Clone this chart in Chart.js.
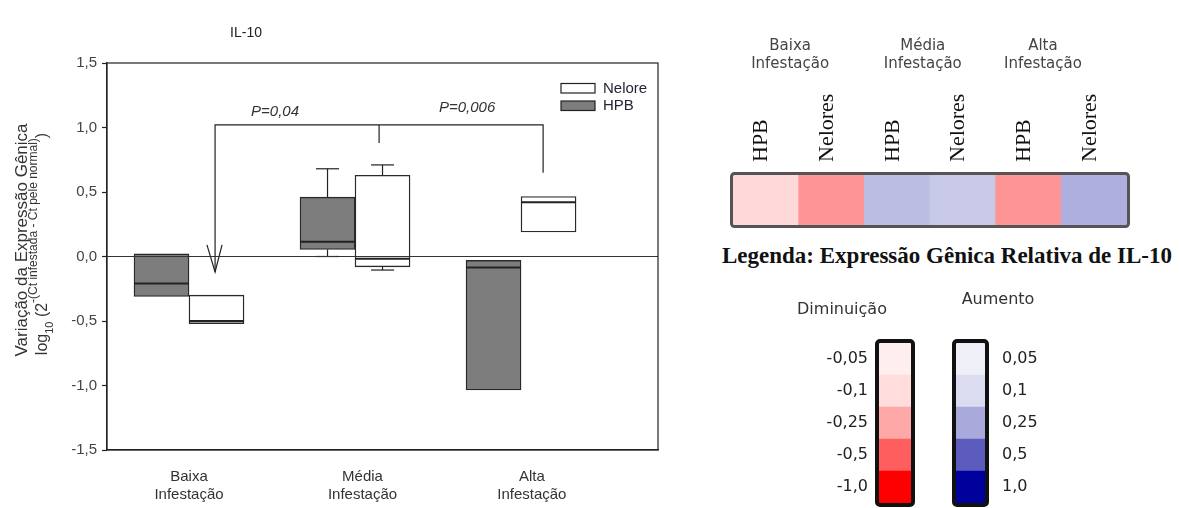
<!DOCTYPE html>
<html>
<head>
<meta charset="utf-8">
<script src="https://cdn.jsdelivr.net/npm/chart.js@4.4.1/dist/chart.umd.min.js"></script>
<style>
  html, body { margin: 0; padding: 0; background: #fff; }
  #wrap { position: relative; width: 1180px; height: 508px; overflow: hidden; }
  canvas { position: absolute; }
  #box { left: 0; top: 0; }
  #heat { left: 680px; top: 0; }
  #red { left: 773px; top: 280px; }
  #blue { left: 940px; top: 280px; }
  #legTitle { position: absolute; left: 700px; width: 494px; top: 243px; line-height: 28px;
    text-align: center; font: bold 23px 'Liberation Serif', serif; color: #111; }
</style>
</head>
<body>
<div id="wrap">
  <canvas id="box" width="680" height="508"></canvas>
  <canvas id="heat" width="500" height="240"></canvas>
  <div id="legTitle">Legenda: Expressão Gênica Relativa de IL-10</div>
  <canvas id="red" width="147" height="228"></canvas>
  <canvas id="blue" width="100" height="228"></canvas>
</div>
<script>
// ---- box plot data ----
var categories = [['Baixa', 'Infestação'], ['Média', 'Infestação'], ['Alta', 'Infestação']];
var hpbQ1 = [-0.31, 0.054, -1.035];
var hpbQ3 = [0.02, 0.46, -0.03];
var hpbMedian = [-0.21, 0.114, -0.085];
var hpbWhiskLow = [null, 0.0, null];
var hpbWhiskHigh = [null, 0.68, null];
var neloreQ1 = [-0.52, -0.08, 0.19];
var neloreQ3 = [-0.30, 0.63, 0.465];
var neloreMedian = [-0.50, -0.018, 0.42];
var neloreWhiskLow = [null, -0.105, null];
var neloreWhiskHigh = [null, 0.71, null];

// significance bracket (data units)
var bracketLine = [{x: 1.157, y: -0.12}, {x: 1.157, y: 1.02}, {x: 3.133, y: 1.02}, {x: 3.133, y: 0.65}];
var bracketMid = [{x: 2.145, y: 1.02}, {x: 2.145, y: 0.88}];
var arrowHead = [{x: 1.108, y: 0.09}, {x: 1.157, y: -0.12}, {x: 1.199, y: 0.09}];
var pValues = ['P=0,04', 'P=0,006'];
var pValueAt = [{x: 1.518, y: 1.124}, {x: 2.675, y: 1.155}];

// ---- heatmap data ----
var heatLabels = ['HPB', 'Nelores', 'HPB', 'Nelores', 'HPB', 'Nelores'];
var heatGroups = [['Baixa', 'Infestação'], ['Média', 'Infestação'], ['Alta', 'Infestação']];
var heatColors = ['#ffd9d9', '#ff9494', '#bcbde3', '#c8c9e8', '#ff9494', '#aeafdf'];

// ---- colour key ----
var redLabels = ['-0,05', '-0,1', '-0,25', '-0,5', '-1,0'];
var redColors = ['#ffeeee', '#ffdddd', '#ffa8a8', '#ff5e5e', '#ff0000'];
var blueLabels = ['0,05', '0,1', '0,25', '0,5', '1,0'];
var blueColors = ['#efeff8', '#dcdcf0', '#a9a9dc', '#5c5cbf', '#00009c'];

var SANS = "'Liberation Sans', Arial, sans-serif";
var DJV = "'DejaVu Sans', Verdana, sans-serif";

function hline(ctx, x1, y1, x2, y2) {
  ctx.beginPath();
  ctx.moveTo(x1, y1);
  ctx.lineTo(x2, y2);
  ctx.stroke();
}

var boxExtras = {
  id: 'boxExtras',
  afterDatasetsDraw: function (chart) {
    var ctx = chart.ctx, ys = chart.scales.y, xs = chart.scales.x, ca = chart.chartArea;
    ctx.save();
    ctx.strokeStyle = '#222';
    // medians + whiskers
    chart.data.datasets.forEach(function (ds, di) {
      if (!ds.stats) return;
      chart.getDatasetMeta(di).data.forEach(function (bar, i) {
        var p = bar.getProps(['x', 'width'], true);
        var half = p.width / 2;
        ctx.lineWidth = 2;
        var my = ys.getPixelForValue(ds.stats.median[i]);
        hline(ctx, p.x - half, my, p.x + half, my);
        ctx.lineWidth = 1.2;
        [[ds.stats.low[i], ds.y1[i]], [ds.stats.high[i], ds.y2[i]]].forEach(function (w) {
          if (w[0] === null) return;
          var wy = ys.getPixelForValue(w[0]), by = ys.getPixelForValue(w[1]);
          hline(ctx, p.x, by, p.x, wy);
          hline(ctx, p.x - half * 0.42, wy, p.x + half * 0.42, wy);
        });
      });
    });
    // zero reference line
    ctx.lineWidth = 1.2;
    ctx.strokeStyle = '#333';
    var zy = ys.getPixelForValue(0);
    hline(ctx, ca.left, zy, ca.right, zy);
    // frame
    ctx.strokeStyle = '#222';
    ctx.strokeRect(ca.left, ca.top, ca.right - ca.left, ca.bottom - ca.top);
    // p values
    ctx.fillStyle = '#333';
    ctx.font = 'italic 15px ' + SANS;
    ctx.textAlign = 'center';
    ctx.textBaseline = 'middle';
    pValues.forEach(function (t, i) {
      ctx.fillText(t, xs.getPixelForValue(pValueAt[i].x), ys.getPixelForValue(pValueAt[i].y));
    });
    // legend (Nelore first)
    ctx.font = '15px ' + SANS;
    ctx.textAlign = 'left';
    [chart.data.datasets[1], chart.data.datasets[0]].forEach(function (ds, k) {
      var y = 83.5 + k * 17.5;
      ctx.fillStyle = ds.backgroundColor;
      ctx.fillRect(561, y, 34, 9.5);
      ctx.lineWidth = 1.2;
      ctx.strokeStyle = '#222';
      ctx.strokeRect(561, y, 34, 9.5);
      ctx.fillStyle = '#2a2233';
      ctx.fillText(ds.label, 603, y + 5);
    });
    // title
    ctx.fillStyle = '#222';
    ctx.font = '14px ' + SANS;
    ctx.textAlign = 'center';
    ctx.fillText('IL-10', 246, 33);
    // y axis title
    ctx.save();
    ctx.translate(27, 240);
    ctx.rotate(-Math.PI / 2);
    ctx.font = '17px ' + SANS;
    ctx.fillStyle = '#333';
    ctx.textBaseline = 'alphabetic';
    ctx.fillText('Variação da Expressão Gênica', 0, 0);
    ctx.restore();
    var parts = [
      {t: 'log', s: 16, dy: 0},
      {t: '10', s: 11, dy: 6},
      {t: ' (2', s: 16, dy: 0},
      {t: '-(Ct infestada - Ct pele normal)', s: 12, dy: -10},
      {t: ')', s: 16, dy: 0}
    ];
    ctx.save();
    ctx.translate(47, 244);
    ctx.rotate(-Math.PI / 2);
    ctx.fillStyle = '#333';
    ctx.textAlign = 'left';
    ctx.textBaseline = 'alphabetic';
    var total = 0;
    parts.forEach(function (p) { ctx.font = p.s + 'px ' + SANS; p.w = ctx.measureText(p.t).width; total += p.w; });
    var x = -total / 2;
    parts.forEach(function (p) { ctx.font = p.s + 'px ' + SANS; ctx.fillText(p.t, x, p.dy); x += p.w; });
    ctx.restore();
    ctx.restore();
  }
};

function lineSet(points) {
  return {type: 'line', data: points, borderColor: '#222', borderWidth: 1.2, pointRadius: 0, fill: false, tension: 0};
}

new Chart(document.getElementById('box'), {
  type: 'bar',
  data: {
    datasets: [
      {
        label: 'HPB',
        data: categories.map(function (c, i) { return {x: i + 1, y: [hpbQ1[i], hpbQ3[i]]}; }),
        y1: hpbQ1, y2: hpbQ3,
        stats: {median: hpbMedian, low: hpbWhiskLow, high: hpbWhiskHigh},
        backgroundColor: '#7d7d7d', borderColor: '#2a2a2a', borderWidth: 1.4, borderSkipped: false, barThickness: 55
      },
      {
        label: 'Nelore',
        data: categories.map(function (c, i) { return {x: i + 1, y: [neloreQ1[i], neloreQ3[i]]}; }),
        y1: neloreQ1, y2: neloreQ3,
        stats: {median: neloreMedian, low: neloreWhiskLow, high: neloreWhiskHigh},
        backgroundColor: '#ffffff', borderColor: '#2a2a2a', borderWidth: 1.4, borderSkipped: false, barThickness: 55
      },
      lineSet(bracketLine),
      lineSet(bracketMid),
      lineSet(arrowHead)
    ]
  },
  options: {
    responsive: false,
    animation: false,
    layout: {padding: {top: 63, right: 22, left: 0, bottom: 0}},
    plugins: {legend: {display: false}, tooltip: {enabled: false}, title: {display: false}},
    scales: {
      x: {
        type: 'linear', min: 0.506, max: 3.825, offset: false,
        grid: {display: false, drawTicks: false},
        border: {color: '#222', width: 1.2},
        // labels sit slightly right of the box pairs in the original
        afterBuildTicks: function (s) { s.ticks = [1, 2.045, 3.065].map(function (v) { return {value: v}; }); },
        ticks: {
          callback: function (v, i) { return categories[i]; },
          autoSkip: false, maxRotation: 0, padding: 18,
          font: {family: SANS, size: 15}, color: '#333'
        },
        afterFit: function (s) { s.height = 58; }
      },
      y: {
        min: -1.5, max: 1.5,
        ticks: {
          stepSize: 0.5, padding: 5,
          callback: function (v) { return v.toFixed(1).replace('.', ','); },
          font: {family: SANS, size: 15}, color: '#444'
        },
        grid: {drawOnChartArea: false, tickColor: '#222', tickLength: 5, tickWidth: 1.2},
        border: {color: '#222', width: 1.2},
        afterFit: function (s) { s.width = 107; }
      }
    }
  },
  plugins: [boxExtras]
});

// outer border around a strip of cells
function frame(color, lw, r) {
  return {
    id: 'frame',
    afterDatasetsDraw: function (chart) {
      var ca = chart.chartArea, ctx = chart.ctx, o = lw / 2;
      ctx.save();
      ctx.strokeStyle = color;
      ctx.lineWidth = lw;
      ctx.beginPath();
      ctx.roundRect(ca.left - o, ca.top - o, ca.right - ca.left + lw, ca.bottom - ca.top + lw, r);
      ctx.stroke();
      ctx.restore();
    }
  };
}

new Chart(document.getElementById('heat'), {
  type: 'bar',
  data: {
    labels: heatLabels,
    datasets: [{data: heatLabels.map(function () { return 1; }), backgroundColor: heatColors,
      barPercentage: 1, categoryPercentage: 1, borderWidth: 0}]
  },
  options: {
    responsive: false,
    animation: false,
    layout: {padding: {left: 53, right: 53, top: 0, bottom: 15}},
    plugins: {legend: {display: false}, tooltip: {enabled: false}},
    scales: {
      x: {
        position: 'top', weight: 0,
        grid: {display: false, drawTicks: false}, border: {display: false},
        ticks: {minRotation: 90, maxRotation: 90, autoSkip: false, padding: 13, labelOffset: 22,
          font: {family: "'Liberation Serif', serif", size: 22}, color: '#111'},
        afterFit: function (s) { s.height = 100; }
      },
      xg: {
        type: 'linear', min: 0, max: 6, offset: false, position: 'top', weight: 1,
        grid: {display: false, drawTicks: false, offset: false}, border: {display: false},
        afterBuildTicks: function (s) { s.ticks = [0.87, 2.89, 4.72].map(function (v) { return {value: v}; }); },
        ticks: {padding: 2, callback: function (v, i) { return heatGroups[i]; },
          font: {family: DJV, size: 15}, color: '#444'},
        afterFit: function (s) { s.height = 75; }
      },
      y: {display: false, min: 0, max: 1}
    }
  },
  plugins: [frame('#555', 3, 3)]
});

function keyChart(id, labels, colors, title, side, opts) {
  return new Chart(document.getElementById(id), {
    type: 'bar',
    data: {
      labels: labels,
      datasets: [{data: labels.map(function () { return 1; }), backgroundColor: colors,
        barPercentage: 1, categoryPercentage: 1, borderWidth: 0}]
    },
    options: {
      indexAxis: 'y',
      responsive: false,
      animation: false,
      layout: {padding: opts.pad},
      plugins: {
        legend: {display: false}, tooltip: {enabled: false},
        title: {display: true, text: title, font: {family: DJV, size: 16, weight: 'normal'}, color: '#333',
          padding: opts.titlePad}
      },
      scales: {
        x: {display: false, min: 0, max: 1},
        y: {
          position: side,
          grid: {display: false, drawTicks: false}, border: {display: false},
          ticks: {padding: opts.tickPad, font: {family: DJV, size: 16}, color: '#222'},
          afterFit: function (s) { s.width = opts.axisW; s.paddingTop = 0; s.paddingBottom = 0; }
        }
      }
    },
    plugins: [frame('#111', 4, 3)]
  });
}

keyChart('red', redLabels, redColors, 'Diminuição', 'left',
  {pad: {left: 0, right: 9, top: 0, bottom: 5}, titlePad: {top: 20.4, bottom: 23.4}, tickPad: 11, axisW: 106});
keyChart('blue', blueLabels, blueColors, 'Aumento', 'right',
  {pad: {left: 16, right: 0, top: 0, bottom: 5}, titlePad: {top: 10.4, bottom: 33.4}, tickPad: 17, axisW: 55});
</script>
</body>
</html>
